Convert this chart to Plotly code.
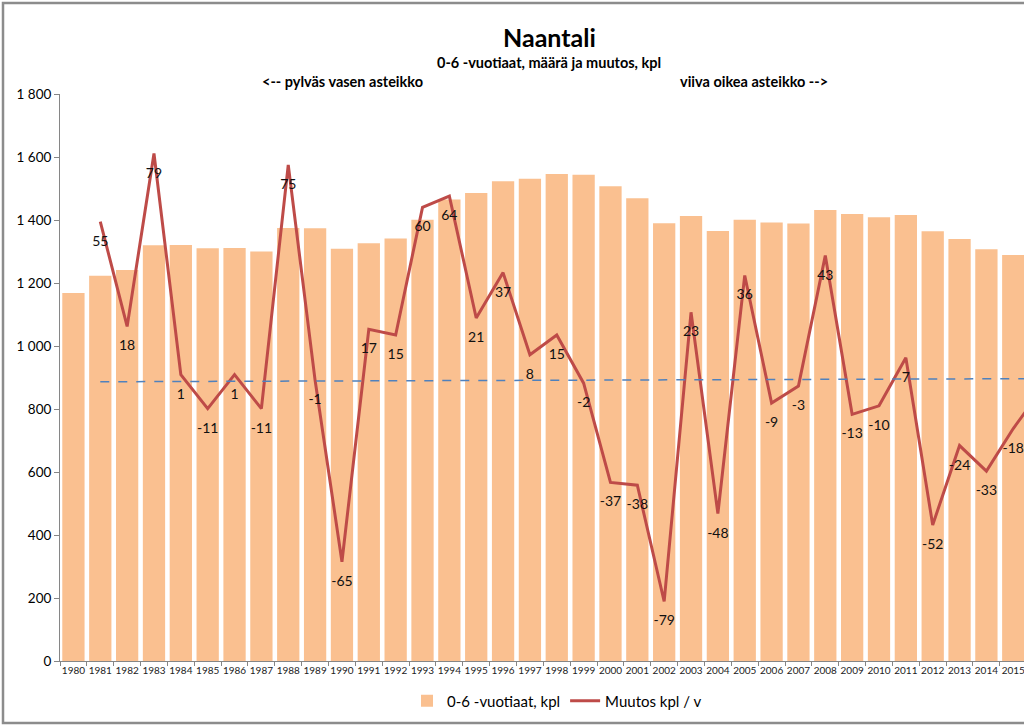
import plotly.graph_objects as go

# ---------------- data ----------------
years = [str(y) for y in range(1980, 2017)]
children = [1168, 1223, 1241, 1320, 1321, 1310, 1311, 1300, 1375, 1374,
            1309, 1326, 1341, 1401, 1465, 1486, 1523, 1531, 1546, 1544,
            1507, 1469, 1390, 1413, 1365, 1401, 1392, 1389, 1432, 1419,
            1409, 1416, 1364, 1340, 1307, 1289, 1284]
change_years = years[1:]
changes = [55, 18, 79, 1, -11, 1, -11, 75, -1, -65,
           17, 15, 60, 64, 21, 37, 8, 15, -2, -37,
           -38, -79, 23, -48, 36, -9, -3, 43, -13, -10,
           7, -52, -24, -33, -18, -5]
change_labels = [str(v) for v in changes[:-1]] + [""]
trend_years = ["1981", "2016"]
trend_values = [-1.5, -0.4]
left_ticks = [0, 200, 400, 600, 800, 1000, 1200, 1400, 1600, 1800]
left_tick_text = ["0", "200", "400", "600", "800", "1 000", "1 200", "1 400", "1 600", "1 800"]

# ---------------- layout geometry (pixels) ----------------
W, H = 1024, 727
L, R, T, B = 60, 0, 94, 66
pw, ph = W - L - R, H - T - B


def px_x(x):
    return (x - L) / pw


def px_y(y):
    return (H - B - y) / ph


FONT = "Lato"
BAR_COLOR = "#FAC090"
LINE_COLOR = "#BE4B48"
AXIS_COLOR = "#868686"

fig = go.Figure()
fig.add_trace(go.Bar(
    x=years, y=children, name="0-6 -vuotiaat, kpl",
    marker=dict(color=BAR_COLOR, line=dict(width=0)),
))
fig.add_trace(go.Scatter(
    x=change_years, y=changes, name="Muutos kpl / v", yaxis="y2",
    mode="lines+markers+text", text=change_labels, textposition="bottom center",
    textfont=dict(family=FONT, size=14, color="#111111"),
    marker=dict(size=20, color="rgba(0,0,0,0)", line=dict(width=0)),
    line=dict(color=LINE_COLOR, width=3), cliponaxis=True,
))
fig.add_trace(go.Scatter(
    x=trend_years, y=trend_values, yaxis="y2", mode="lines",
    line=dict(color="#4F81BD", width=1.5, dash="dash"), showlegend=False,
    hoverinfo="skip",
))

annotations = [
    dict(text="<b>Naantali</b>", x=px_x(549), y=px_y(37), font=dict(size=25)),
    dict(text="<b>0-6 -vuotiaat, määrä ja muutos, kpl</b>", x=px_x(549), y=px_y(62),
         font=dict(size=14.5)),
    dict(text="<b>&lt;-- pylväs vasen asteikko</b>", x=px_x(342), y=px_y(81),
         font=dict(size=14.5)),
    dict(text="<b>viiva oikea asteikko --&gt;</b>", x=px_x(754), y=px_y(81),
         font=dict(size=14.5)),
]
for a in annotations:
    a.update(xref="paper", yref="paper", showarrow=False, xanchor="center",
             yanchor="middle")
    a["font"].update(family=FONT, color="#000000")

fig.update_layout(
    width=W, height=H,
    margin=dict(l=L, r=R, t=T, b=B, pad=0),
    paper_bgcolor="white", plot_bgcolor="white",
    font=dict(family=FONT, color="#000000"),
    bargap=0.17,
    showlegend=True,
    legend=dict(orientation="h", x=px_x(557), y=px_y(701), xanchor="center",
                yanchor="middle", font=dict(family=FONT, size=15, color="#000000"),
                itemwidth=30, traceorder="normal"),
    annotations=annotations,
    xaxis=dict(type="category", range=[-0.5, 35.4], showgrid=False,
               showline=True, linecolor=AXIS_COLOR, linewidth=1,
               ticks="outside", tickson="boundaries", ticklen=4,
               tickcolor=AXIS_COLOR, tickfont=dict(family=FONT, size=10, color="#222222"),
               tickangle=0),
    yaxis=dict(range=[0, 1800], tickvals=left_ticks, ticktext=left_tick_text,
               showgrid=False, zeroline=False, showline=True, linecolor=AXIS_COLOR,
               linewidth=1, ticks="outside", ticklen=5, tickcolor=AXIS_COLOR,
               tickfont=dict(family=FONT, size=13.5, color="#000000")),
    yaxis2=dict(range=[-100, 100], overlaying="y", side="right", visible=False,
                showgrid=False, zeroline=False),
    shapes=[dict(type="rect", xref="paper", yref="paper",
                 x0=px_x(3), x1=px_x(1040), y0=px_y(723), y1=px_y(3),
                 line=dict(color="#8C8C8C", width=2.5), fillcolor="rgba(0,0,0,0)",
                 layer="above")],
)

fig.write_html(
    "out.html",
    config={"displayModeBar": False},
    post_script="document.body.style.margin='0';document.body.style.overflow='hidden';"
                "document.documentElement.style.overflow='hidden';",
)
